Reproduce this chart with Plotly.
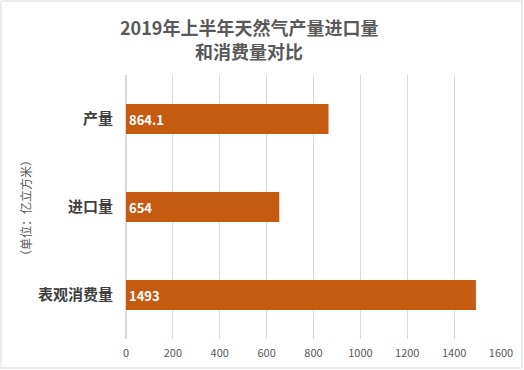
import plotly.graph_objects as go

categories = ["产量", "进口量", "表观消费量"]
values = [864.1, 654, 1493]
labels = ["864.1", "654", "1493"]
title_lines = ["2019年上半年天然气产量进口量", "和消费量对比"]

W, H = 524, 370
L, R, T, B = 126, 23, 75, 31
pw, ph = W - L - R, H - T - B

def px_x(x):
    return (x - L) / pw

def px_y(y):
    return 1 - (y - T) / ph

fig = go.Figure(go.Bar(
    y=categories, x=values, orientation="h",
    marker=dict(color="#C55A11", line=dict(width=0)),
    text=labels, textposition="inside", insidetextanchor="start",
    textfont=dict(color="white", size=13, family="Noto Sans CJK SC", weight="bold"),
    cliponaxis=False,
))

title_font = dict(family="Noto Sans CJK SC", size=18, color="#595959", weight="bold")

fig.update_layout(
    width=W, height=H,
    margin=dict(l=L, r=R, t=T, b=B, autoexpand=False),
    paper_bgcolor="white", plot_bgcolor="white",
    bargap=0.66,
    showlegend=False,
    xaxis=dict(
        range=[0, 1600], dtick=200, showgrid=True, gridcolor="#D9D9D9", gridwidth=1,
        zeroline=True, zerolinecolor="#D9D9D9", automargin=False,
        tickfont=dict(family="Noto Sans CJK SC", size=11, color="#595959"),
        ticks="", ticklen=0, ticklabelstandoff=6, showline=False, fixedrange=True,
    ),
    yaxis=dict(
        categoryorder="array", categoryarray=categories[::-1], automargin=False,
        tickfont=dict(family="Noto Sans CJK SC", size=15, color="#404040", weight="bold"),
        ticks="", ticklen=0, ticklabelstandoff=12, showline=False, fixedrange=True,
    ),
    annotations=[
        dict(text=title_lines[0], xref="paper", yref="paper", x=px_x(249), y=px_y(27),
             xanchor="center", yanchor="middle", showarrow=False, font=title_font),
        dict(text=title_lines[1], xref="paper", yref="paper", x=px_x(249), y=px_y(51),
             xanchor="center", yanchor="middle", showarrow=False, font=title_font),
        dict(text="（单位：亿立方米）", textangle=-90,
             xref="paper", yref="paper", x=px_x(25), y=px_y(208),
             xanchor="center", yanchor="middle", showarrow=False,
             font=dict(family="Noto Sans CJK SC", size=12, color="#595959")),
    ],
    shapes=[dict(
        type="rect", xref="paper", yref="paper",
        x0=px_x(1), x1=px_x(W - 2), y0=px_y(H - 2), y1=px_y(1),
        line=dict(color="#D9D9D9", width=1), fillcolor="rgba(0,0,0,0)", layer="below",
    )],
)

fig.write_html("out.html", config={"displayModeBar": False},
               post_script="document.body.style.margin='0';document.body.style.overflow='hidden';")
